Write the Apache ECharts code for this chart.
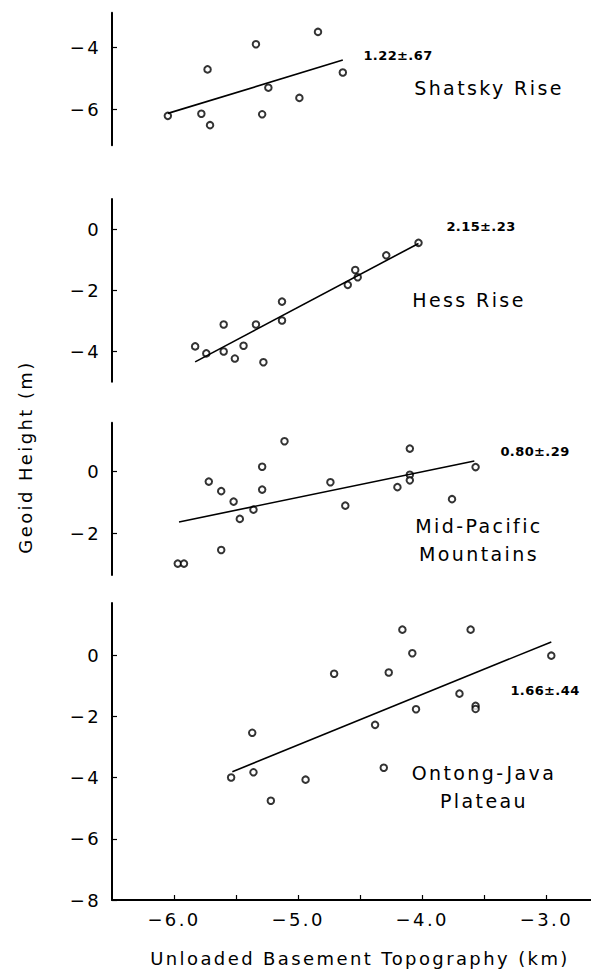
<!DOCTYPE html>
<html>
<head>
<meta charset="utf-8">
<script src="https://cdn.jsdelivr.net/npm/echarts@6/dist/echarts.min.js"></script>
<style>
  html, body { margin: 0; padding: 0; background: #fff; }
  #chart { width: 591px; height: 969px; }
  /* the original lettering is widely spaced */
  #chart text { letter-spacing: 2.4px; }
  #chart text[style*="bold"] { letter-spacing: 0.4px; }
</style>
</head>
<body>
<div id="chart"></div>
<script>
// basement topography (km) vs geoid height (m), one set per plateau
var shatskyX = [-6.05, -5.78, -5.71, -5.73, -5.34, -5.29, -5.24, -4.99, -4.84, -4.64];
var shatskyY = [-6.22, -6.15, -6.52, -4.72, -3.91, -6.17, -5.31, -5.64, -3.51, -4.82];
var shatskyFitX = [-6.05, -4.64];
var shatskyFitY = [-6.14, -4.42];

var hessX = [-5.83, -5.74, -5.60, -5.60, -5.51, -5.44, -5.34, -5.28, -5.13, -5.13, -4.60, -4.54, -4.52, -4.29, -4.03];
var hessY = [-3.84, -4.07, -3.12, -4.01, -4.24, -3.82, -3.12, -4.36, -2.37, -2.99, -1.82, -1.33, -1.57, -0.85, -0.44];
var hessFitX = [-5.83, -4.03];
var hessFitY = [-4.35, -0.46];

var midX = [-5.97, -5.92, -5.72, -5.62, -5.62, -5.52, -5.47, -5.36, -5.29, -5.29, -5.11, -4.74, -4.62, -4.20, -4.10, -4.10, -4.10, -3.76, -3.57];
var midY = [-2.99, -2.99, -0.33, -0.64, -2.55, -0.98, -1.54, -1.24, 0.15, -0.59, 0.98, -0.35, -1.11, -0.51, -0.11, -0.29, 0.74, -0.90, 0.14];
var midFitX = [-5.96, -3.58];
var midFitY = [-1.64, 0.34];

var ontongX = [-5.54, -5.36, -5.37, -5.22, -4.94, -4.71, -4.38, -4.31, -4.27, -4.16, -4.08, -4.05, -3.70, -3.61, -3.57, -3.57, -2.96];
var ontongY = [-4.00, -3.83, -2.54, -4.76, -4.07, -0.61, -2.28, -3.68, -0.57, 0.83, 0.06, -1.77, -1.26, 0.83, -1.66, -1.76, -0.02];
var ontongFitX = [-5.53, -2.96];
var ontongFitY = [-3.81, 0.43];

// tick values
var shatskyTicks = [-6, -4];
var hessTicks = [-4, -2, 0];
var midTicks = [-2, 0];
var ontongTicks = [-8, -6, -4, -2, 0];
var xTicks = [-6, -5.5, -5, -4.5, -4, -3.5, -3];
var xLabels = [-6, -5, -4, -3];

var panelNames = ["Shatsky Rise", "Hess Rise", "Mid-Pacific\nMountains", "Ontong-Java\nPlateau"];
var panelSlopes = ["1.22±.67", "2.15±.23", "0.80±.29", "1.66±.44"];

var font = "DejaVu Sans";
var minus = function (s) { return String(s).replace("-", "\u2212"); };

function zip(xs, ys) {
  return xs.map(function (x, i) { return [x, ys[i]]; });
}

var panels = [
  { top: 12.7, height: 132.6, min: -7.17, max: -2.89, ticks: shatskyTicks, x: shatskyX, y: shatskyY, fx: shatskyFitX, fy: shatskyFitY },
  { top: 199, height: 182.7, min: -5, max: 1, ticks: hessTicks, x: hessX, y: hessY, fx: hessFitX, fy: hessFitY },
  { top: 422.7, height: 152.3, min: -3.36, max: 1.58, ticks: midTicks, x: midX, y: midY, fx: midFitX, fy: midFitY },
  { top: 603, height: 297, min: -8, max: 1.7, ticks: ontongTicks, x: ontongX, y: ontongY, fx: ontongFitX, fy: ontongFitY }
];

var grids = [], xAxes = [], yAxes = [], series = [];
panels.forEach(function (p, i) {
  var last = i === panels.length - 1;
  grids.push({ left: 112, width: 479, top: p.top, height: p.height });
  xAxes.push({
    type: "value", gridIndex: i, min: -6.5, max: -2.64,
    show: last,
    splitLine: { show: false },
    axisLine: { onZero: false, lineStyle: { color: "#000", width: 2 } },
    axisTick: { inside: true, length: 5, customValues: xTicks, lineStyle: { color: "#000", width: 1.2 } },
    axisLabel: {
      customValues: xLabels, margin: 10, color: "#000", fontSize: 18, fontFamily: font,
      formatter: function (v) { return minus(v.toFixed(1)); }
    }
  });
  yAxes.push({
    type: "value", gridIndex: i, min: p.min, max: p.max,
    splitLine: { show: false },
    axisLine: { onZero: false, lineStyle: { color: "#000", width: 2 } },
    axisTick: { inside: true, length: 5, customValues: p.ticks, lineStyle: { color: "#000", width: 1.2 } },
    axisLabel: {
      customValues: p.ticks, margin: 11, color: "#000", fontSize: 18, fontFamily: font,
      formatter: function (v) { return minus(v); }
    }
  });
  series.push({
    type: "scatter", xAxisIndex: i, yAxisIndex: i,
    symbol: "emptyCircle", symbolSize: 6.5,
    itemStyle: { color: "#000", borderColor: "#000", borderWidth: 1.6 },
    data: zip(p.x, p.y)
  });
  series.push({
    type: "line", xAxisIndex: i, yAxisIndex: i,
    symbol: "none",
    lineStyle: { color: "#000", width: 1.6 },
    data: zip(p.fx, p.fy)
  });
});

var nameStyle = { fill: "#000", font: "19px " + font, textAlign: "center", textVerticalAlign: "middle", lineHeight: 28 };
var slopeStyle = { fill: "#000", font: "bold 13px " + font, textAlign: "center", textVerticalAlign: "middle" };
var namePos = [[489, 88], [469, 300], [479, 540], [484, 787]];
var slopePos = [[398, 55], [481, 226], [535, 451], [545, 690]];

var graphics = [];
panelNames.forEach(function (n, i) {
  graphics.push({ type: "text", x: namePos[i][0], y: namePos[i][1], style: Object.assign({ text: n }, nameStyle) });
  graphics.push({ type: "text", x: slopePos[i][0], y: slopePos[i][1], style: Object.assign({ text: panelSlopes[i] }, slopeStyle) });
});
graphics.push({
  type: "text", x: 25, y: 457, rotation: Math.PI / 2,
  style: { text: "Geoid Height (m)", fill: "#000", font: "18px " + font, textAlign: "center", textVerticalAlign: "middle" }
});
graphics.push({
  type: "text", x: 360, y: 958,
  style: { text: "Unloaded Basement Topography (km)", fill: "#000", font: "18px " + font, textAlign: "center", textVerticalAlign: "middle" }
});

var myChart = echarts.init(document.getElementById("chart"), null, { renderer: "svg" });
myChart.setOption({
  animation: false,
  backgroundColor: "#fff",
  grid: grids,
  xAxis: xAxes,
  yAxis: yAxes,
  series: series,
  graphic: graphics
});
</script>
</body>
</html>
